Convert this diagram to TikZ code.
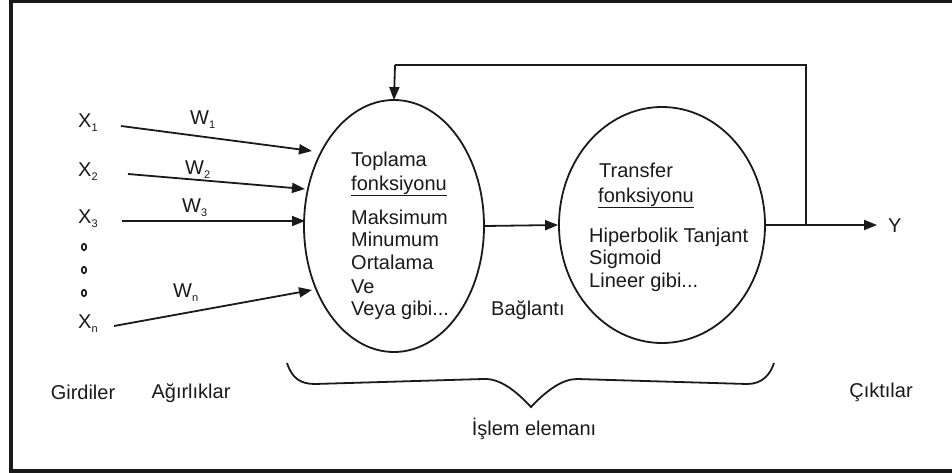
\documentclass[tikz,border=0pt]{standalone}
\usepackage{fontspec}
\setmainfont{Liberation Sans}
\usetikzlibrary{arrows.meta,shapes.geometric}
\definecolor{ink}{HTML}{1A1A1A}
\newcommand\subs[1]{\raisebox{-4pt}{\fontsize{11}{11}\selectfont #1}}
\tikzset{
  x=1pt, y=-1pt,
  lbl/.style={inner sep=0pt, anchor=base west, text=ink, font=\fontsize{20}{22}\selectfont},
  lblc/.style={lbl, anchor=base},
  arr/.style={draw=ink, line width=1.8pt, -{Triangle[length=13pt,width=10pt]}},
  conn/.style={draw=ink, line width=1.6pt},
  blob/.style={ellipse, draw=ink, line width=1.8pt, inner sep=0pt},
  dotmark/.style={ellipse, draw=ink, line width=1.7pt, minimum width=4.5pt, minimum height=6.5pt, inner sep=0pt},
}
\begin{document}
\begin{tikzpicture}
\useasboundingbox (0,0) rectangle (952,473);
% frame
\draw[ink, line width=4pt] (960,1) -- (11,1) -- (11,470.5) -- (960,470.5);

% ellipses
\node[blob, minimum width=180pt, minimum height=252pt] (e1) at (394,226) {};
\node[blob, minimum width=206pt, minimum height=236pt] (e2) at (662,225) {};

% inputs
\node[lbl] (x1) at (78,128) {X\subs{1}};
\node[lbl] (x2) at (78,177) {X\subs{2}};
\node[lbl] (x3) at (78,223) {X\subs{3}};
\node[lbl] (xn) at (78,328) {X\subs{n}};
\node[dotmark] (d1) at (84,247) {};
\node[dotmark] (d2) at (84,270) {};
\node[dotmark] (d3) at (84,293) {};

\node[lbl] (w1) at (190,125) {W\subs{1}};
\node[lbl] (w2) at (185,175) {W\subs{2}};
\node[lbl] (w3) at (182,212) {W\subs{3}};
\node[lbl] (wn) at (173,297) {W\subs{n}};

\coordinate (s1) at (121,126);
\coordinate (s2) at (128,174);
\coordinate (s3) at (122,221);
\coordinate (sn) at (114,326);
\coordinate (t1) at (312,151);
\coordinate (t2) at (305,189);
\coordinate (t3) at (305,221);
\coordinate (tn) at (312,290);
\draw[arr] (s1) -- (t1);
\draw[arr] (s2) -- (t2);
\draw[arr] (s3) -- (t3);
\draw[arr] (sn) -- (tn);

% text in ellipse 1
\node[lbl] (a1) at (351,167) {Toplama};
\node[lbl] (a2) at (351,190) {\underline{fonksiyonu}};
\node[lbl] (a3) at (351,224) {Maksimum};
\node[lbl] (a4) at (351,246) {Minumum};
\node[lbl] (a5) at (351,269) {Ortalama};
\node[lbl] (a6) at (351,293) {Ve};
\node[lbl] (a7) at (351,315) {Veya gibi...};

% text in ellipse 2
\node[lbl] (b1) at (599,178) {Transfer};
\node[lbl] (b2) at (598,202) {\underline{fonksiyonu}};
\node[lbl] (b3) at (589,242) {Hiperbolik Tanjant};
\node[lbl] (b4) at (589,264) {Sigmoid};
\node[lbl] (b5) at (589,287) {Lineer gibi...};

% connection
\draw[arr] (e1.east) -- (e2.west);
\node[lbl] (bag) at (491,315) {Bağlantı};

% output and feedback
\coordinate (jn) at (806,225);
\coordinate (fb1) at (806,65);
\coordinate (fb2) at (395,65);
\coordinate (yend) at (877,225);
\node[lbl] (y) at (888,232) {Y};
\draw[arr] (e2.east) -- (yend);
\draw[conn] (jn) -- (fb1) -- (fb2);
\draw[arr, shorten >=-1pt] (fb2) -- (e1.north);

% brace
\draw[ink, line width=1.8pt] (287,363) .. controls (292,378) and (300,384) .. (315,384)
  -- (483,379) .. controls (500,378) and (516,391) .. (531,407)
  .. controls (546,391) and (562,379) .. (577,379)
  -- (747,384) .. controls (762,384) and (770,375) .. (774,363);

% bottom labels
\node[lblc] (gir) at (83,399) {Girdiler};
\node[lblc] (agr) at (191,398) {Ağırlıklar};
\node[lblc] (cik) at (881,397) {Çıktılar};
\node[lblc] (isl) at (534,435) {İşlem elemanı};
\end{tikzpicture}
\end{document}
